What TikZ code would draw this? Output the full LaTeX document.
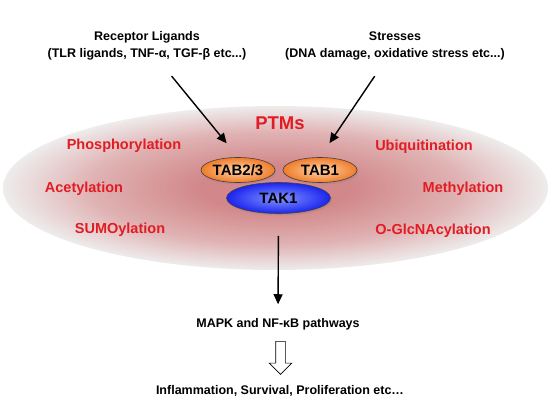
\documentclass[tikz,border=0pt]{standalone}
\usepackage{fontspec}
\setmainfont{Liberation Sans}
\usepackage{tikz}
\usetikzlibrary{arrows.meta,shadows,shapes.arrows,shapes.geometric}

\definecolor{ptmred}{RGB}{226,28,36}
\definecolor{ptmcore}{RGB}{210,136,138}
\definecolor{ptmmid}{RGB}{224,178,179}
\definecolor{ptmedge}{RGB}{238,236,236}
\definecolor{tabin}{RGB}{255,214,170}
\definecolor{tabout}{RGB}{240,124,42}
\definecolor{takin}{RGB}{130,150,255}
\definecolor{takout}{RGB}{28,36,238}

\pgfdeclareradialshading{ptmglow}{\pgfpoint{0bp}{0bp}}{color(0bp)=(ptmcore); color(7bp)=(ptmcore); color(17bp)=(ptmmid); color(25bp)=(ptmedge); color(50bp)=(ptmedge)}

\tikzset{
	blacktext/.style={font=\fontsize{12.5}{17}\selectfont\bfseries, align=center, inner sep=0pt},
	ptmtext/.style={font=\fontsize{14.5}{17}\selectfont\bfseries, text=ptmred, inner sep=0pt, anchor=base},
	subunit/.style={ellipse, draw=black!75, line width=0.6pt, inner sep=0pt,
		font=\fontsize{15}{18}\selectfont\bfseries,
		drop shadow={shadow xshift=1.5pt, shadow yshift=-1.8pt, opacity=0.3}},
	signal/.style={line width=1.4pt, -{Triangle[length=10pt,width=9pt]}}
}

\begin{document}
\begin{tikzpicture}[x=1pt,y=-1pt]
		%%%%% START %%%%%
		\useasboundingbox (0,0) rectangle (550,412);
		
		% background of the modifications
		\path[shading=ptmglow] (275.5,188) ellipse [x radius=272.5, y radius=82];
		\node[font=\fontsize{18.5}{20}\selectfont\bfseries, text=ptmred, inner sep=0pt, anchor=base] (ptms) at (280,130) {PTMs};
		
		\node[ptmtext] (phos) at (124,149.5) {Phosphorylation};
		\node[ptmtext] (acet) at (84,192.5) {Acetylation};
		\node[ptmtext] (sumo) at (120,233.5) {SUMOylation};
		\node[ptmtext] (ubiq) at (424,150.5) {Ubiquitination};
		\node[ptmtext] (meth) at (463,192.5) {Methylation};
		\node[ptmtext] (oglc) at (433,234.5) {O-GlcNAcylation};
		
		% the complex
		\node[subunit, inner color=tabin, outer color=tabout, minimum width=74pt, minimum height=25pt] (tab23) at (238,170) {TAB2/3};
		\node[subunit, inner color=tabin, outer color=tabout, minimum width=74pt, minimum height=25pt] (tab1) at (320,170) {TAB1};
		\node[subunit, inner color=takin, outer color=takout, minimum width=104pt, minimum height=31pt] (tak1) at (278.5,198) {TAK1};
		
		% inputs
		\node[blacktext] (ligands) at (147,46) {Receptor Ligands\\(TLR ligands, TNF-α, TGF-β etc...)};
		\node[blacktext] (stresses) at (395,46) {Stresses\\(DNA damage, oxidative stress etc...)};
		
		\draw[signal, shorten <=20pt, shorten >=18pt] (ligands) -- (tab23.north);
		\draw[signal, shorten <=19pt, shorten >=17pt] (stresses) -- (tab1.north);
		
		% outputs
		\node[blacktext, anchor=base] (mapk) at (278,327.5) {MAPK and NF-κB pathways};
		\node[blacktext, anchor=base] (outcome) at (280,394.5) {Inflammation, Survival, Proliferation etc…};
		
		\draw[signal, shorten <=22pt, shorten >=14pt] (tak1.south) -- (mapk.north);
		\node[single arrow, draw=black, line width=0.6pt, fill=white, rotate=-90, inner sep=4.5pt,
			minimum height=33pt, single arrow head extend=6.5pt] (fatarrow) at (280.5,355.5) {};
		
		%%%%% END %%%%%
\end{tikzpicture}
\end{document}
